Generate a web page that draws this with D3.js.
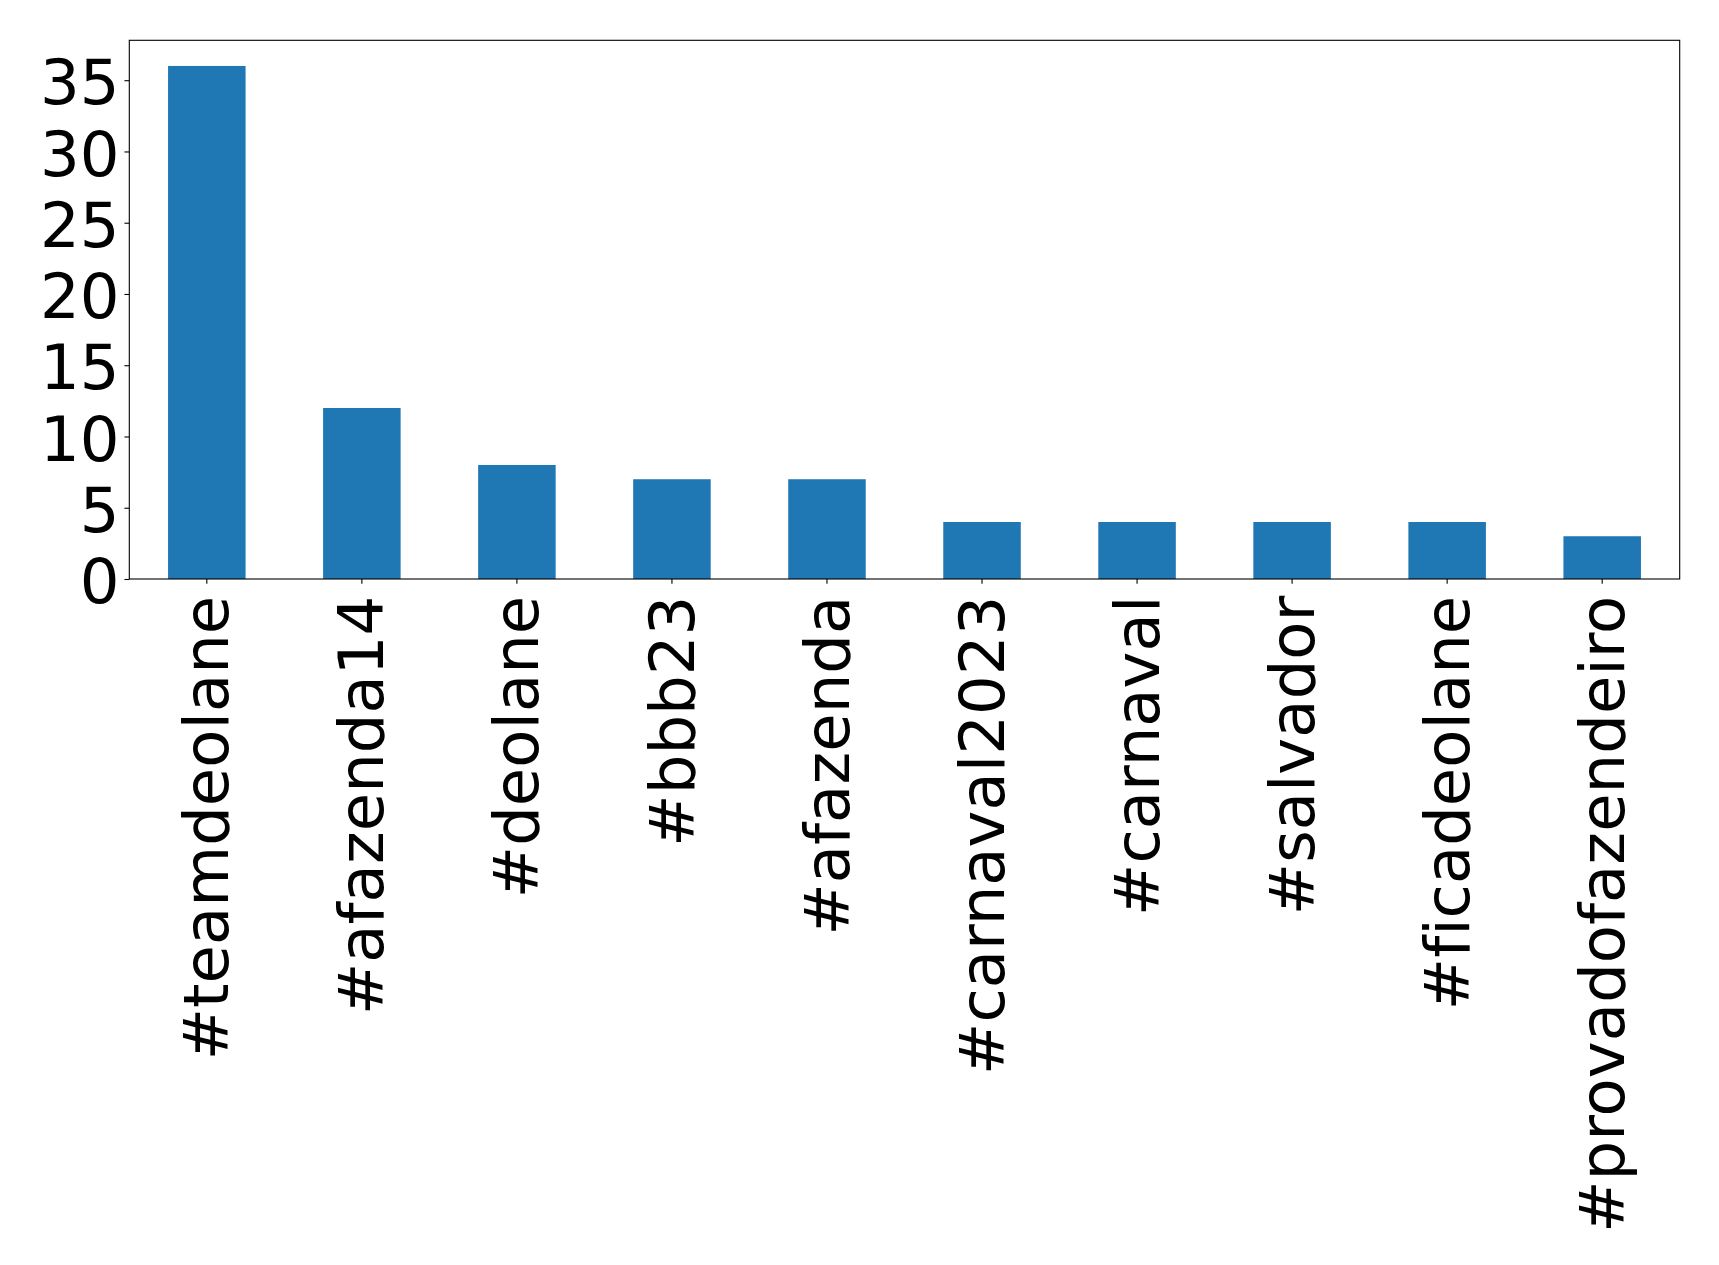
<!DOCTYPE html>
<html>
<head>
<meta charset="utf-8">
<script src="https://cdn.jsdelivr.net/npm/d3@7"></script>
<style>
  html, body { margin: 0; padding: 0; background: #fff; }
  svg { display: block; }
  text { font-family: "DejaVu Sans", sans-serif; fill: #000; font-variant-ligatures: none; font-feature-settings: "liga" 0, "clig" 0; }
</style>
</head>
<body>
<svg id="chart" width="1719" height="1265"></svg>
<script>
const categories = ["#teamdeolane", "#afazenda14", "#deolane", "#bbb23", "#afazenda",
  "#carnaval2023", "#carnaval", "#salvador", "#ficadeolane", "#provadofazendeiro"];
const counts = [36, 12, 8, 7, 7, 4, 4, 4, 4, 3];
const yTicks = [0, 5, 10, 15, 20, 25, 30, 35];

const W = 1719, H = 1265;
const margin = { left: 129.3, right: W - 1679.7, top: 40.3, bottom: H - 579 };
const svg = d3.select("#chart");
const x0 = margin.left, x1 = W - margin.right, y0 = H - margin.bottom, y1 = margin.top;

const x = d3.scaleBand().domain(categories).range([x0, x1]).paddingInner(0.5).paddingOuter(0.25);
const y = d3.scaleLinear().domain([0, d3.max(counts) * 1.05]).range([y0, y1]);

svg.append("g").selectAll("rect").data(categories).join("rect")
  .attr("x", d => x(d))
  .attr("width", x.bandwidth())
  .attr("y", (d, i) => y(counts[i]))
  .attr("height", (d, i) => y0 - y(counts[i]))
  .attr("fill", "#1f77b4");

const fs = 62.5;
const tickLen = 4.86, pad = 4.86;

// y axis
const yAxis = svg.append("g").attr("transform", `translate(${x0},0)`)
  .call(d3.axisLeft(y).tickValues(yTicks).tickSize(tickLen).tickPadding(pad).tickFormat(d3.format("d")));
yAxis.select(".domain").remove();
yAxis.selectAll(".tick line").attr("stroke", "#000").attr("stroke-width", 1.1);
yAxis.selectAll(".tick text").attr("font-size", fs).attr("font-family", "DejaVu Sans")
  .attr("dy", "0.38em").attr("fill", "#000");

// x axis
const xAxis = svg.append("g").attr("transform", `translate(0,${y0})`)
  .call(d3.axisBottom(x).tickSize(tickLen).tickPadding(0));
xAxis.select(".domain").remove();
xAxis.selectAll(".tick line").attr("stroke", "#000").attr("stroke-width", 1.1);
xAxis.selectAll(".tick text")
  .attr("font-size", fs).attr("font-family", "DejaVu Sans").attr("fill", "#000")
  .style("font-variant-ligatures", "none")
  .attr("text-anchor", "end")
  .attr("transform", `translate(0,${tickLen + pad + 7}) rotate(-90)`)
  .attr("x", 0).attr("y", 0).attr("dy", "0.345em");

// frame
svg.append("rect").attr("x", x0).attr("y", y1).attr("width", x1 - x0).attr("height", y0 - y1)
  .attr("fill", "none").attr("stroke", "#000").attr("stroke-width", 1.1);
</script>
</body>
</html>
